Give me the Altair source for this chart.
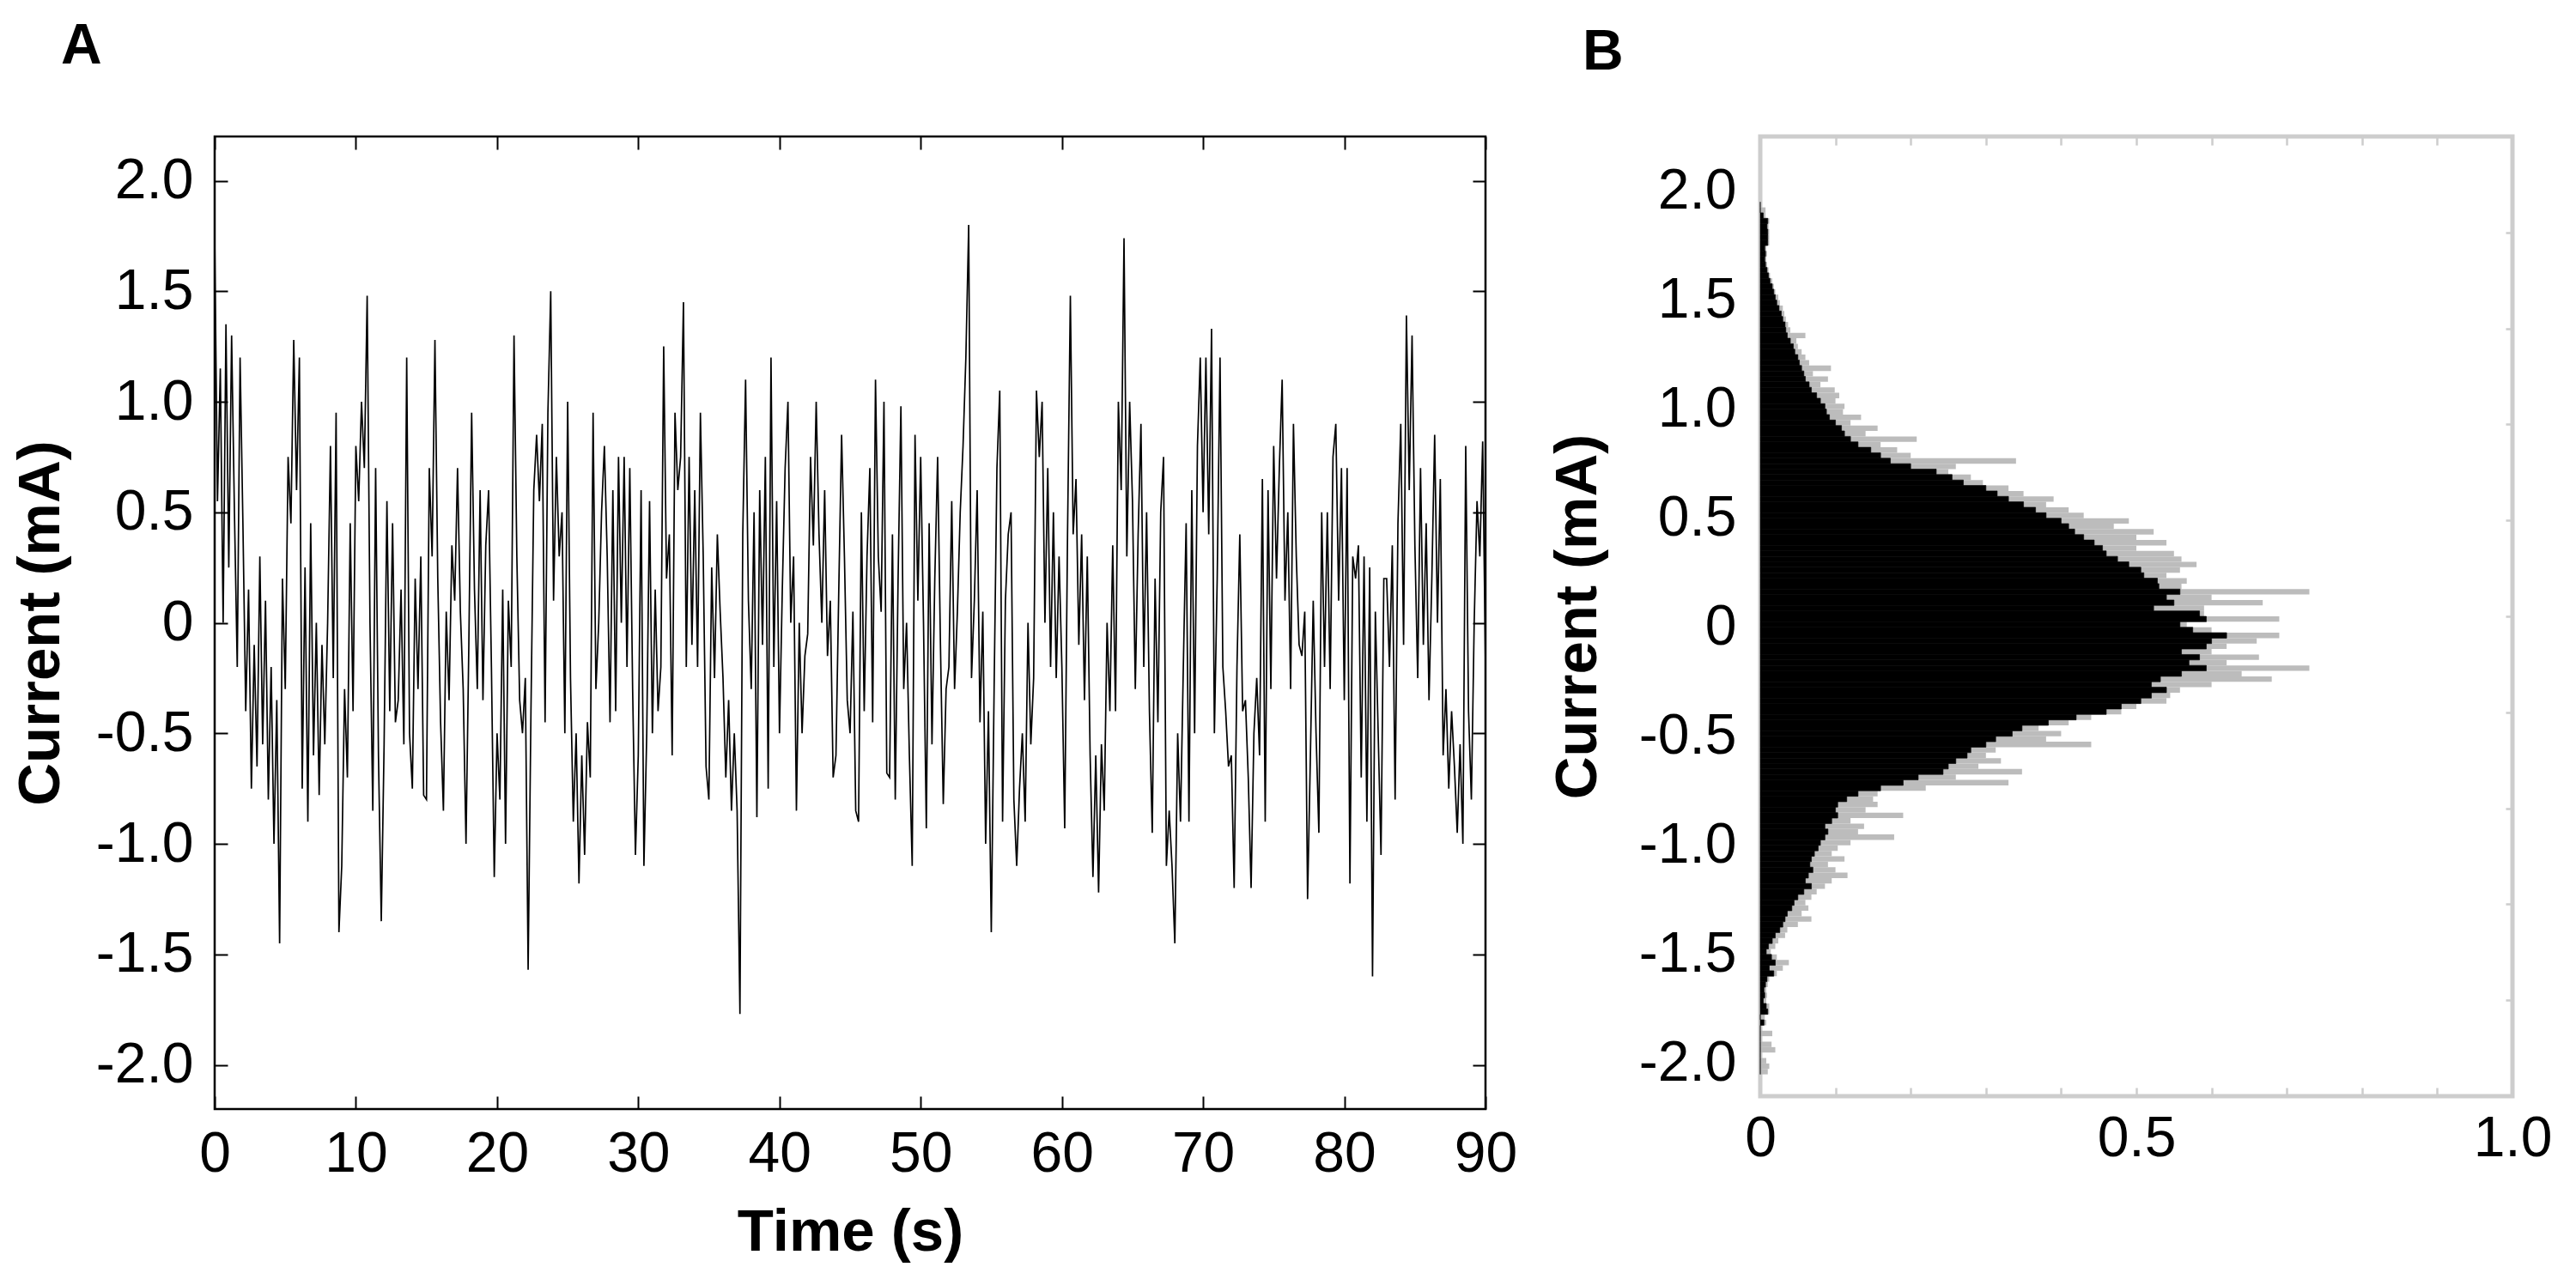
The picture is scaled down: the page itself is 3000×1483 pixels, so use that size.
import altair as alt
import pandas as pd

FONT = "Liberation Sans"

# ---------------- Panel A: current trace (sampled every 0.2 s) ----------------
TIME_STEP = 0.2
current = [
    1.75, 0.55, 1.15, 0.0, 1.35,
    0.25, 1.3, 0.5, -0.2, 1.2,
    0.45, -0.4, 0.15, -0.75, -0.1,
    -0.65, 0.3, -0.55, 0.1, -0.8,
    -0.2, -1.0, -0.35, -1.45, 0.2,
    -0.3, 0.75, 0.45, 1.28, 0.6,
    1.2, -0.75, 0.25, -0.9, 0.45,
    -0.6, 0.0, -0.78, -0.1, -0.55,
    0.0, 0.8, -0.25, 0.95, -1.4,
    -1.1, -0.3, -0.7, 0.45, -0.4,
    0.8, 0.55, 1.0, 0.7, 1.48,
    0.0, -0.85, 0.7, -0.6, -1.35,
    -0.55, 0.55, -0.4, 0.45, -0.45,
    -0.35, 0.15, -0.55, 1.2, -0.5,
    -0.75, 0.2, -0.3, 0.3, -0.78,
    -0.8, 0.7, 0.3, 1.28, 0.2,
    -0.45, -0.85, 0.05, -0.35, 0.35,
    0.1, 0.7, 0.05, -0.3, -1.0,
    -0.1, 0.95, 0.15, -0.3, 0.6,
    -0.35, 0.35, 0.6, -0.2, -1.15,
    -0.5, -0.8, 0.15, -1.0, 0.1,
    -0.2, 1.3, 0.3, -0.35, -0.5,
    -0.25, -1.57, -0.4, 0.6, 0.85,
    0.55, 0.9, -0.45, 0.95, 1.5,
    0.1, 0.75, 0.3, 0.5, -0.5,
    1.0, -0.25, -0.9, -0.5, -1.18,
    -0.6, -1.05, -0.45, -0.7, 0.95,
    -0.3, 0.0, 0.5, 0.8, 0.3,
    -0.45, 0.6, -0.4, 0.75, 0.0,
    0.75, -0.2, 0.7, -0.3, -1.05,
    -0.6, 0.6, -1.1, -0.5, 0.55,
    -0.5, 0.15, -0.4, -0.2, 1.25,
    0.2, 0.4, -0.6, 0.95, 0.6,
    0.75, 1.45, -0.2, 0.75, -0.1,
    0.6, -0.2, 0.95, 0.3, -0.65,
    -0.8, 0.25, -0.25, 0.4, 0.05,
    -0.25, -0.7, -0.35, -0.85, -0.5,
    -0.85, -1.77, 0.4, 1.1, 0.1,
    -0.3, 0.5, -0.88, 0.6, -0.1,
    0.75, -0.75, 1.2, -0.2, 0.55,
    -0.5, 0.15, 0.7, 1.0, 0.0,
    0.3, -0.85, 0.0, -0.5, -0.15,
    -0.05, 0.75, 0.35, 1.0, 0.4,
    0.0, 0.6, -0.15, 0.1, -0.7,
    -0.6, 0.15, 0.85, 0.3, -0.35,
    -0.5, 0.05, -0.85, -0.9, 0.5,
    -0.4, 0.3, 0.7, -0.45, 1.1,
    0.3, 0.05, 1.0, -0.68, -0.7,
    0.4, -0.8, 0.2, 0.98, -0.3,
    0.0, -0.6, -1.1, 0.85, 0.1,
    0.75, 0.0, -0.93, 0.45, -0.55,
    0.2, 0.75, -0.1, -0.82, -0.3,
    -0.2, 0.55, -0.3, 0.05, 0.5,
    0.8, 1.2, 1.8, -0.25, 0.1,
    0.6, -0.45, 0.05, -1.0, -0.4,
    -1.4, -0.3, 0.7, 1.05, -0.9,
    0.1, 0.4, 0.5, -0.8, -1.1,
    -0.75, -0.5, -0.9, 0.0, -0.55,
    -0.25, 1.05, 0.75, 1.0, 0.0,
    0.7, -0.2, 0.5, -0.25, 0.3,
    -0.2, -0.93, 0.4, 1.48, 0.4,
    0.65, -0.1, 0.4, -0.35, 0.3,
    -0.6, -1.15, -0.6, -1.22, -0.55,
    -0.85, 0.0, -0.4, 0.35, -0.4,
    1.0, 0.6, 1.74, 0.3, 1.0,
    0.55, -0.3, 0.4, 0.9, -0.2,
    0.5, -0.4, -0.95, 0.2, -0.45,
    0.5, 0.75, -1.1, -0.85, -1.1,
    -1.45, -0.5, -0.9, -0.2, 0.45,
    -0.9, 0.6, -0.5, 0.8, 1.2,
    0.5, 1.2, 0.4, 1.33, -0.5,
    0.2, 1.2, -0.2, -0.4, -0.65,
    -0.6, -1.2, -0.2, 0.4, -0.4,
    -0.35, -0.7, -1.2, -0.5, -0.25,
    -0.6, 0.65, -0.9, 0.6, -0.3,
    0.8, 0.2, 0.7, 1.1, 0.1,
    0.5, -0.3, 0.9, 0.3, -0.1,
    -0.15, 0.05, -1.25, -0.6, 0.1,
    -0.5, -0.95, 0.5, -0.2, 0.5,
    -0.3, 0.75, 0.9, 0.1, 0.7,
    -0.35, 0.7, -1.18, 0.3, 0.2,
    0.35, -0.7, 0.3, -0.9, 0.25,
    -1.6, 0.05, -0.5, -1.05, 0.2,
    0.2, -0.2, 0.35, -0.8, 0.45,
    0.9, -0.1, 1.39, 0.6, 1.3,
    0.35, -0.25, 0.7, -0.1, 0.45,
    -0.35, 0.2, 0.85, 0.0, 0.65,
    -0.6, -0.3, -0.75, -0.4, -0.65,
    -0.95, -0.55, -1.0, 0.8, -0.4,
    -0.8, 0.0, 0.55, 0.3, 0.82,
    -0.2,
]

# ---------------- Panel B: amplitude histogram ----------------
HIST_START = -2.05
HIST_BIN = 0.025
# black core length of each bin (bottom bin first)
hist_black = [
    0.0, 0.0, 0.0, 0.0, 0.0, 0.0, 0.0, 0.0, 0.0, 0.005,
    0.0, 0.01, 0.008, 0.004, 0.006, 0.005, 0.007, 0.009, 0.018, 0.012,
    0.02, 0.015, 0.008, 0.011, 0.016, 0.02, 0.026, 0.03, 0.033, 0.036,
    0.042, 0.045, 0.05, 0.058, 0.068, 0.06, 0.064, 0.07, 0.066, 0.068,
    0.072, 0.077, 0.08, 0.086, 0.09, 0.086, 0.095, 0.103, 0.1, 0.103,
    0.115, 0.13, 0.16, 0.19, 0.21, 0.243, 0.25, 0.26, 0.275, 0.28,
    0.3, 0.313, 0.335, 0.348, 0.383, 0.42, 0.46, 0.48, 0.506, 0.52,
    0.54, 0.52, 0.532, 0.56, 0.593, 0.57, 0.584, 0.56, 0.593, 0.6,
    0.62, 0.575, 0.558, 0.593, 0.584, 0.523, 0.55, 0.54, 0.558, 0.53,
    0.528, 0.51, 0.506, 0.49, 0.475, 0.46, 0.455, 0.444, 0.43, 0.418,
    0.41, 0.4, 0.38, 0.366, 0.35, 0.33, 0.315, 0.3, 0.27, 0.255,
    0.234, 0.2, 0.173, 0.16, 0.147, 0.13, 0.12, 0.112, 0.108, 0.1,
    0.092, 0.088, 0.086, 0.08, 0.075, 0.068, 0.065, 0.06, 0.058, 0.055,
    0.052, 0.05, 0.046, 0.044, 0.04, 0.036, 0.034, 0.033, 0.03, 0.028,
    0.025, 0.022, 0.02, 0.018, 0.016, 0.013, 0.011, 0.009, 0.007, 0.006,
    0.007, 0.006, 0.01, 0.01, 0.01, 0.009, 0.01, 0.004, 0.0, 0.0,
]
# blurred grey tip length of each bin
hist_grey = [
    0.01, 0.012, 0.008, 0.0, 0.02, 0.015, 0.0, 0.016, 0.0, 0.008,
    0.006, 0.012, 0.012, 0.008, 0.009, 0.008, 0.01, 0.012, 0.022, 0.03,
    0.038, 0.022, 0.014, 0.02, 0.024, 0.033, 0.036, 0.05, 0.068, 0.055,
    0.064, 0.06, 0.068, 0.075, 0.086, 0.095, 0.116, 0.1, 0.09, 0.112,
    0.095, 0.103, 0.12, 0.178, 0.13, 0.138, 0.12, 0.19, 0.14, 0.156,
    0.15, 0.156, 0.22, 0.33, 0.26, 0.348, 0.29, 0.32, 0.3, 0.313,
    0.44, 0.38, 0.4, 0.37, 0.41, 0.44, 0.48, 0.5, 0.54, 0.545,
    0.558, 0.6, 0.68, 0.64, 0.73, 0.62, 0.663, 0.6, 0.62, 0.66,
    0.69, 0.6, 0.567, 0.69, 0.59, 0.59, 0.668, 0.6, 0.73, 0.56,
    0.567, 0.54, 0.558, 0.58, 0.56, 0.55, 0.5, 0.54, 0.5, 0.523,
    0.47, 0.49, 0.43, 0.41, 0.38, 0.39, 0.35, 0.33, 0.296, 0.28,
    0.25, 0.26, 0.34, 0.2, 0.182, 0.16, 0.208, 0.14, 0.156, 0.12,
    0.134, 0.11, 0.112, 0.1, 0.105, 0.099, 0.08, 0.09, 0.07, 0.094,
    0.065, 0.06, 0.055, 0.05, 0.048, 0.06, 0.04, 0.037, 0.034, 0.032,
    0.03, 0.026, 0.024, 0.02, 0.018, 0.016, 0.013, 0.011, 0.009, 0.008,
    0.009, 0.008, 0.012, 0.012, 0.012, 0.011, 0.012, 0.007, 0.007, 0.0,
]

# ---------------- tick values ----------------
current_ticks = [-2.0, -1.5, -1.0, -0.5, 0.0, 0.5, 1.0, 1.5, 2.0]
time_ticks = [0, 10, 20, 30, 40, 50, 60, 70, 80, 90]
fraction_ticks = [0.0, 0.1, 0.2, 0.3, 0.4, 0.5, 0.6, 0.7, 0.8, 0.9, 1.0]
fraction_inner_ticks = [0.1, 0.2, 0.3, 0.4, 0.5, 0.6, 0.7, 0.8, 0.9]
hist_right_ticks = [1.81, 1.37, 0.93, 0.49, 0.05, -0.39, -0.83, -1.27, -1.71]

trace = pd.DataFrame({
    "t": [round(i * TIME_STEP, 3) for i in range(len(current))],
    "current": current,
})
n_bins = len(hist_black)
hist = pd.DataFrame({
    "lo": [round(HIST_START + i * HIST_BIN, 4) for i in range(n_bins)],
    "hi": [round(HIST_START + (i + 1) * HIST_BIN, 4) for i in range(n_bins)],
    "zero": [0.0] * n_bins,
    "black": hist_black,
    "grey": hist_grey,
})

num_label = "datum.value == 0 ? '0' : (datum.value < 0 ? '-' : '') + format(abs(datum.value), '.1f')"
frac_label = ("abs(datum.value) < 1e-6 ? '0' : (abs(datum.value - 0.5) < 1e-6 || abs(datum.value - 1) < 1e-6"
              " ? format(datum.value, '.1f') : '')")

LABEL = dict(labelFont=FONT, labelFontSize=66, labelColor="black", labelFlush=False, labelOverlap=False)
TITLE = dict(titleFont=FONT, titleFontSize=69, titleFontWeight="bold", titleColor="black")

# ---------- Panel A ----------
t_scale = alt.Scale(domain=[0, 90], nice=False, zero=False)
ya_scale = alt.Scale(domain=[-2.2, 2.2], nice=False, zero=False)

line = alt.Chart(trace).mark_line(color="black", strokeWidth=1.7, clip=True).encode(
    x=alt.X("t:Q", scale=t_scale, axis=alt.Axis(
        orient="bottom", values=time_ticks, offset=-15, tickSize=15, tickWidth=2, tickColor="black",
        domain=False, grid=False, labelPadding=20, format="d",
        title="Time (s)", titlePadding=24, **LABEL, **TITLE)),
    y=alt.Y("current:Q", scale=ya_scale, axis=alt.Axis(
        orient="left", values=current_ticks, offset=-15, tickSize=15, tickWidth=2, tickColor="black",
        domain=False, grid=False, labelPadding=25, labelExpr=num_label,
        title="Current (mA)", titlePadding=29, **LABEL, **TITLE)),
)
a_frame_ticks = alt.Chart(trace).mark_point(opacity=0).encode(
    x=alt.X("t:Q", scale=t_scale, axis=alt.Axis(
        orient="top", values=time_ticks, offset=-15, tickSize=15, tickWidth=2, tickColor="black",
        domain=False, grid=False, labels=False, title=None)),
    y=alt.Y("current:Q", scale=ya_scale, axis=alt.Axis(
        orient="right", values=current_ticks, offset=-15, tickSize=15, tickWidth=2, tickColor="black",
        domain=False, grid=False, labels=False, title=None)),
)
panel_a = alt.layer(line, a_frame_ticks).resolve_axis(x="independent", y="independent").properties(
    width=1480, height=1133,
    view=alt.ViewBackground(stroke="black", strokeWidth=2.5),
    title=alt.TitleParams("A", anchor="start", frame="group", dx=-179, offset=70,
                          font=FONT, fontSize=66, fontWeight="bold", color="black"),
)

# ---------- Panel B ----------
GREY = "#cdcdcd"
xb_scale = alt.Scale(domain=[0, 1], nice=False, zero=False)
yb_scale = alt.Scale(domain=[-2.15, 2.25], nice=False, zero=False)

grey_bars = alt.Chart(hist).mark_rect(color="#bcbcbc").encode(
    y=alt.Y("lo:Q", scale=yb_scale, axis=alt.Axis(
        orient="left", values=current_ticks, ticks=False, domain=False, grid=False,
        labelPadding=28, labelExpr=num_label,
        title="Current (mA)", titlePadding=36, **LABEL, **TITLE)),
    y2="hi:Q",
    x=alt.X("zero:Q", scale=xb_scale, axis=alt.Axis(
        orient="bottom", values=fraction_ticks, offset=-10, tickSize=10, tickWidth=2.5, tickColor=GREY,
        domain=False, grid=False, labelPadding=17, labelExpr=frac_label, title=None, **LABEL)),
    x2="grey:Q",
)
black_bars = alt.Chart(hist).mark_rect(color="black", stroke="black", strokeWidth=0.6).encode(
    y=alt.Y("lo:Q", scale=yb_scale, axis=None),
    y2="hi:Q",
    x=alt.X("zero:Q", scale=xb_scale, axis=None),
    x2="black:Q",
)
b_frame_ticks = alt.Chart(hist).mark_point(opacity=0).encode(
    x=alt.X("zero:Q", scale=xb_scale, axis=alt.Axis(
        orient="top", values=fraction_inner_ticks, offset=-10, tickSize=10, tickWidth=2.5, tickColor=GREY,
        domain=False, grid=False, labels=False, title=None)),
    y=alt.Y("lo:Q", scale=yb_scale, axis=alt.Axis(
        orient="right", values=hist_right_ticks, offset=-8, tickSize=8, tickWidth=2.5, tickColor=GREY,
        domain=False, grid=False, labels=False, title=None)),
)
panel_b = alt.layer(grey_bars, black_bars, b_frame_ticks).resolve_axis(
    x="independent", y="independent").properties(
    width=876, height=1118,
    view=alt.ViewBackground(stroke=GREY, strokeWidth=5),
    title=alt.TitleParams("B", anchor="start", frame="group", dx=-207, offset=63,
                          font=FONT, fontSize=66, fontWeight="bold", color="black"),
)

chart = alt.hconcat(panel_a, panel_b, spacing=32).properties(
    padding={"left": 4, "top": 11, "right": 0, "bottom": 0},
    background="white",
)

chart.save("out.html", embed_options={"renderer": "svg", "actions": False})
